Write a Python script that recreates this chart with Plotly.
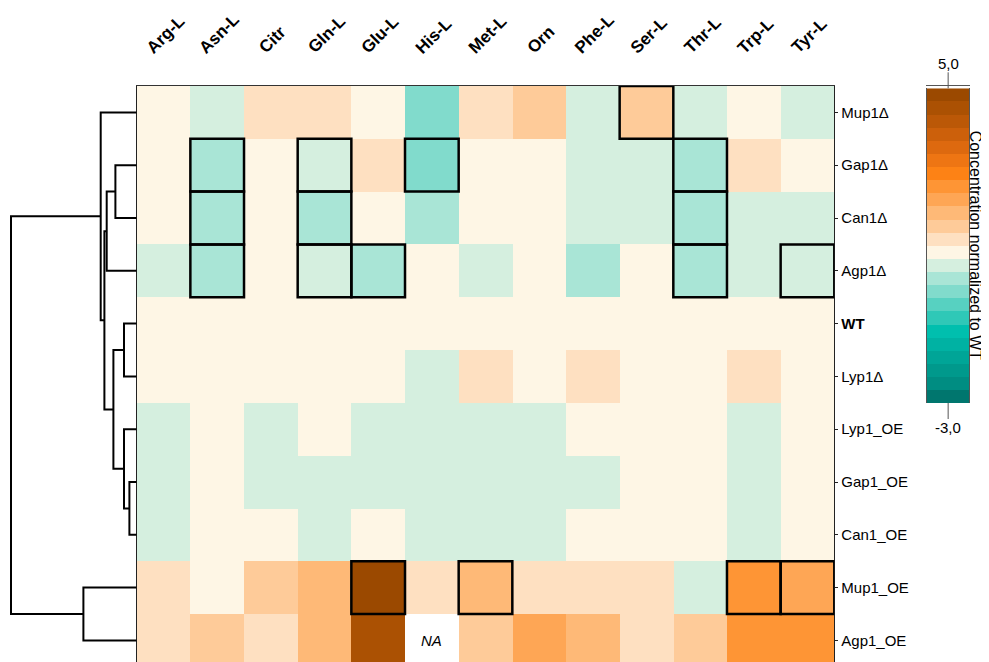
import numpy as np
import plotly.graph_objects as go

# ---------------- data ----------------
metabolites = ["Arg-L", "Asn-L", "Citr", "Gln-L", "Glu-L", "His-L", "Met-L",
               "Orn", "Phe-L", "Ser-L", "Thr-L", "Trp-L", "Tyr-L"]
strains = ["Mup1Δ", "Gap1Δ", "Can1Δ", "Agp1Δ", "WT", "Lyp1Δ", "Lyp1_OE",
           "Gap1_OE", "Can1_OE", "Mup1_OE", "Agp1_OE"]

# concentration normalized to WT (log scale), one list per strain (row)
mup1_del = [0.02, -0.32, 0.40, 0.38, 0.05, -0.85, 0.42, 0.82, -0.30, 0.85, -0.31, 0.08, -0.33]
gap1_del = [0.00, -0.60, 0.03, -0.30, 0.41, -0.86, 0.05, 0.02, -0.29, -0.31, -0.62, 0.39, 0.04]
can1_del = [0.01, -0.61, 0.02, -0.62, 0.06, -0.58, 0.03, 0.01, -0.28, -0.30, -0.63, -0.32, -0.29]
agp1_del = [-0.31, -0.62, 0.04, -0.33, -0.60, 0.02, -0.30, 0.05, -0.59, 0.03, -0.61, -0.31, -0.34]
wt       = [0.00] * 13
lyp1_del = [0.03, 0.02, 0.04, 0.01, 0.05, -0.29, 0.40, 0.06, 0.38, 0.02, 0.04, 0.41, 0.03]
lyp1_oe  = [-0.30, 0.05, -0.28, 0.08, -0.31, -0.33, -0.29, -0.27, 0.06, 0.04, 0.02, -0.32, 0.05]
gap1_oe  = [-0.32, 0.04, -0.30, -0.29, -0.33, -0.31, -0.28, -0.30, -0.29, 0.07, 0.03, -0.30, 0.06]
can1_oe  = [-0.29, 0.06, 0.07, -0.31, 0.05, -0.30, -0.32, -0.29, 0.04, 0.05, 0.06, -0.31, 0.02]
mup1_oe  = [0.38, 0.08, 0.80, 1.22, 4.82, 0.41, 1.20, 0.39, 0.40, 0.42, -0.30, 2.02, 1.58]
agp1_oe  = [0.41, 0.82, 0.39, 1.21, 4.41, None, 0.83, 1.62, 1.19, 0.37, 0.79, 2.05, 1.98]

values = [mup1_del, gap1_del, can1_del, agp1_del, wt, lyp1_del,
          lyp1_oe, gap1_oe, can1_oe, mup1_oe, agp1_oe]

# significant cells (strain, metabolite) -> framed in black
significant = [("Mup1Δ", "Ser-L"),
               ("Gap1Δ", "Asn-L"), ("Gap1Δ", "Gln-L"), ("Gap1Δ", "His-L"), ("Gap1Δ", "Thr-L"),
               ("Can1Δ", "Asn-L"), ("Can1Δ", "Gln-L"), ("Can1Δ", "Thr-L"),
               ("Agp1Δ", "Asn-L"), ("Agp1Δ", "Gln-L"), ("Agp1Δ", "Glu-L"), ("Agp1Δ", "Thr-L"),
               ("Agp1Δ", "Tyr-L"),
               ("Mup1_OE", "Glu-L"), ("Mup1_OE", "Met-L"), ("Mup1_OE", "Trp-L"), ("Mup1_OE", "Tyr-L")]

# hierarchical clustering of strains: (child_a, child_b, height); leaves = row index,
# internal nodes referenced as "n<k>" in creation order
linkage = [(7, 8, 0.73),          # n0 Gap1_OE + Can1_OE
           (6, "n0", 1.27),       # n1
           (4, 5, 1.27),          # n2 WT + Lyp1Δ
           (1, 2, 2.13),          # n3 Gap1Δ + Can1Δ
           ("n2", "n1", 2.33),    # n4
           ("n3", 3, 3.00),       # n5
           ("n5", "n4", 3.23),    # n6
           (0, "n6", 3.60),       # n7
           (9, 10, 5.33),         # n8 Mup1_OE + Agp1_OE
           ("n7", "n8", 12.57)]   # n9 root

cbar_min, cbar_max = -3.0, 5.0
cbar_labels = ["5,0", "-3,0"]
cbar_title = "Concentration normalized to WT"

# colour steps, bottom (low) to top (high)
teal_steps = ["#00766e", "#008d82", "#00998c", "#00a597", "#00b2a3", "#00bfae",
              "#2fc8b7", "#57d1c1", "#81dbcc", "#a9e5d6", "#d5efdf"]
cream = "#fef6e5"
orange_steps = ["#fee0c1", "#fecb99", "#feb977", "#fea655", "#fe9535", "#fd8215",
                "#ee7513", "#dd690f", "#cc600b", "#bb5807", "#ab5103", "#9b4900"]

# ---------------- styling / geometry (screen pixels) ----------------
SCREEN_W, SCREEN_H = 989, 662
OFF = 8  # default page margin around the plot div
W, H = SCREEN_W - OFF, SCREEN_H - OFF
FONT = "Liberation Sans, Arial, sans-serif"
hm_left, hm_right, hm_top = 136.7, 834.3, 86.0
row_h = 52.8
dendro_right = hm_left
root_x = 11.0
cb_left, cb_right, cb_top, cb_bot = 927.0, 969.3, 88.3, 403.0

def px(x):
    return (x - OFF) / W

def py(y):
    return 1 - (y - OFF) / H

# colour breaks: teal over [-3,-0.2], cream [-0.2,0.2], orange over [0.2,5]
edges = list(np.linspace(cbar_min, -0.2, len(teal_steps) + 1)) + \
        list(np.linspace(0.2, cbar_max, len(orange_steps) + 1))
band_colors = teal_steps + [cream] + orange_steps
colorscale = []
for k, c in enumerate(band_colors):
    lo = (edges[k] - cbar_min) / (cbar_max - cbar_min)
    hi = (edges[k + 1] - cbar_min) / (cbar_max - cbar_min)
    colorscale.append([lo, c])
    colorscale.append([hi, c])
band_centers = [(edges[k] + edges[k + 1]) / 2 for k in range(len(band_colors))]

n_rows, n_cols = len(strains), len(metabolites)
visible_rows = (SCREEN_H - hm_top) / row_h
y_range = [visible_rows - 0.5, -0.5]

fig = go.Figure()

# main heatmap
fig.add_trace(go.Heatmap(
    z=values, x=list(range(n_cols)), y=list(range(n_rows)),
    colorscale=colorscale, zmin=cbar_min, zmax=cbar_max,
    showscale=False, hoverongaps=False, xaxis="x", yaxis="y"))

# dendrogram
pos = {i: (float(i), 0.0) for i in range(n_rows)}
dx, dy = [], []
for k, (a, b, h) in enumerate(linkage):
    ya, ha = pos[a]
    yb, hb = pos[b]
    dx += [ha, h, h, hb, None]
    dy += [ya, ya, yb, yb, None]
    pos["n%d" % k] = ((ya + yb) / 2, h)
root_h = linkage[-1][2]
fig.add_trace(go.Scatter(x=dx, y=dy, mode="lines", line=dict(color="black", width=2),
                         hoverinfo="skip", xaxis="x2", yaxis="y2", showlegend=False))

# custom colour bar
fig.add_trace(go.Heatmap(
    z=[[c] for c in band_centers], x=[0], y=list(range(len(band_centers))),
    colorscale=colorscale, zmin=cbar_min, zmax=cbar_max, showscale=False,
    hoverinfo="skip", xaxis="x3", yaxis="y3"))

hm_xdom = [px(hm_left), px(hm_right)]
hm_ydom = [0, py(hm_top)]
dendro_span = dendro_right - OFF
fig.update_layout(
    width=W, height=H, autosize=False,
    margin=dict(l=0, r=0, t=0, b=0),
    paper_bgcolor="white", plot_bgcolor="white",
    font=dict(family=FONT, color="black"),
    showlegend=False,
    xaxis=dict(domain=hm_xdom, range=[-0.5, n_cols - 0.5], showticklabels=False,
               ticks="", showgrid=False, zeroline=False, side="top",
               showline=True, linecolor="#333", linewidth=1, mirror=False),
    yaxis=dict(domain=hm_ydom, range=y_range, showgrid=False, zeroline=False,
               side="right", tickmode="array", tickvals=list(range(n_rows)),
               ticktext=["<b>%s</b>" % s if s == "WT" else s for s in strains],
               tickfont=dict(size=15, family=FONT, color="black"),
               ticks="outside", ticklen=3, tickcolor="#222", tickwidth=1,
               showline=True, linecolor="#222", linewidth=1, mirror="ticks"),
    xaxis2=dict(domain=[0, px(dendro_right)],
                range=[root_h * dendro_span / (dendro_right - root_x), 0],
                visible=False),
    yaxis2=dict(domain=hm_ydom, range=y_range, visible=False),
    xaxis3=dict(domain=[px(cb_left), px(cb_right)], range=[-0.5, 0.5],
                showticklabels=False, ticks="", showgrid=False, zeroline=False,
                showline=True, linecolor="#555", linewidth=1, mirror=True),
    yaxis3=dict(domain=[py(cb_bot), py(cb_top)], range=[-0.5, len(band_centers) - 0.5],
                showticklabels=False, ticks="", showgrid=False, zeroline=False,
                showline=True, linecolor="#555", linewidth=1, mirror=True, anchor="x3"),
)

annotations = []
# column labels
for j, m in enumerate(metabolites):
    annotations.append(dict(x=j + 0.04, xref="x", y=py(60), yref="paper",
                            text="<b>%s</b>" % m, showarrow=False, textangle=-45,
                            xanchor="center", yanchor="bottom",
                            font=dict(size=17, family=FONT, color="black")))
# NA marker
for i, row in enumerate(values):
    for j, v in enumerate(row):
        if v is None:
            annotations.append(dict(x=j, y=i, xref="x", yref="y", text="<i>NA</i>",
                                    showarrow=False, font=dict(size=15, family=FONT)))
# colour bar labels
cb_cx = (cb_left + cb_right) / 2
annotations.append(dict(x=px(cb_cx), y=py(63), xref="paper", yref="paper",
                        xanchor="center", yanchor="middle",
                        text=cbar_labels[0], showarrow=False,
                        font=dict(size=15, family=FONT)))
annotations.append(dict(x=px(cb_cx), y=py(427), xref="paper", yref="paper",
                        xanchor="center", yanchor="middle",
                        text=cbar_labels[1], showarrow=False,
                        font=dict(size=15, family=FONT)))
annotations.append(dict(x=px(975.0), y=py((cb_top + cb_bot) / 2), xref="paper", yref="paper",
                        xanchor="center", yanchor="middle", borderpad=0,
                        text=cbar_title, showarrow=False, textangle=90,
                        font=dict(size=16, family=FONT)))
fig.update_layout(annotations=annotations)

shapes = []
ri = {s: i for i, s in enumerate(strains)}
ci = {m: j for j, m in enumerate(metabolites)}
for s, m in significant:
    i, j = ri[s], ci[m]
    shapes.append(dict(type="rect", xref="x", yref="y", x0=j - 0.5, x1=j + 0.5,
                       y0=i - 0.5, y1=i + 0.5, line=dict(color="black", width=2.5)))
# colour bar end ticks
shapes.append(dict(type="line", xref="paper", yref="paper", x0=px(cb_cx), x1=px(cb_cx),
                   y0=py(cb_top), y1=py(cb_top - 16), line=dict(color="#555", width=1)))
shapes.append(dict(type="line", xref="paper", yref="paper", x0=px(cb_cx), x1=px(cb_cx),
                   y0=py(cb_bot), y1=py(cb_bot + 16), line=dict(color="#555", width=1)))
fig.update_layout(shapes=shapes)

fig.write_html("out.html")
